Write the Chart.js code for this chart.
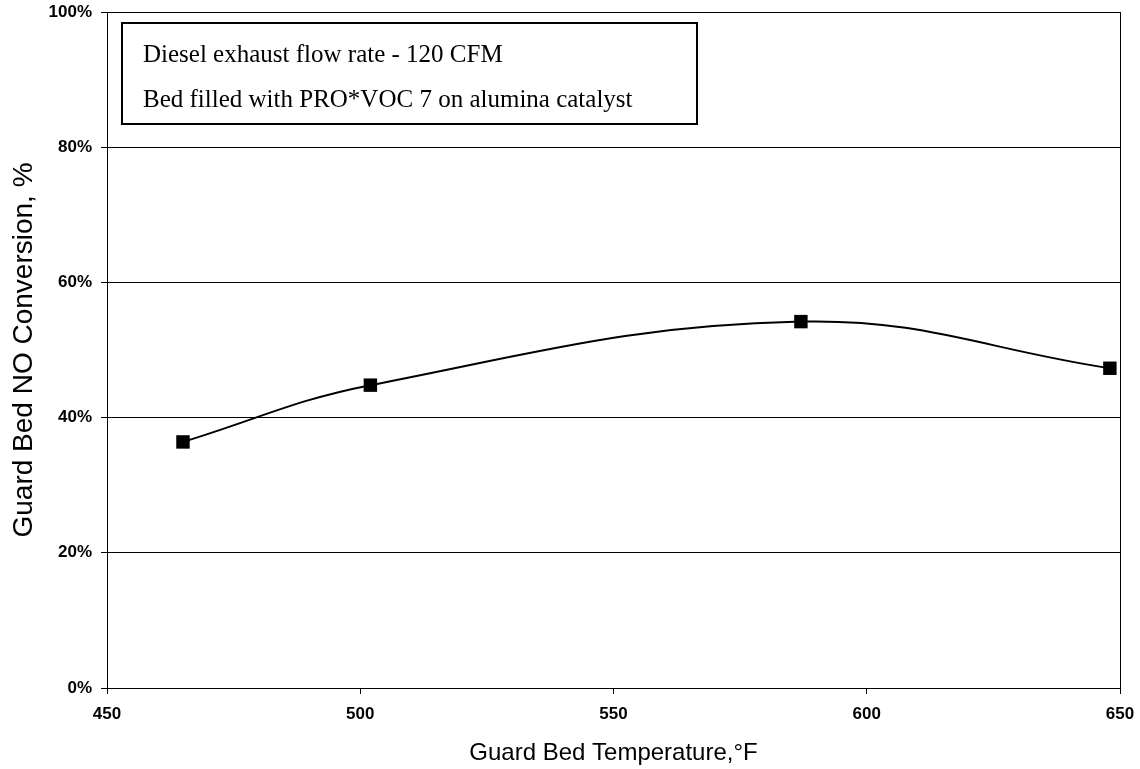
<!DOCTYPE html>
<html>
<head>
<meta charset="utf-8">
<script src="https://cdn.jsdelivr.net/npm/chart.js@4.4.1/dist/chart.umd.min.js"></script>
<style>
  html, body { margin: 0; padding: 0; background: #fff; }
  canvas { display: block; }
</style>
</head>
<body>
<canvas id="myChart" width="1140" height="769"></canvas>
<script>
// values
var temps = [465, 502, 587, 648];
var conversion = [36.4, 44.8, 54.2, 47.3];
var yTicks = [0, 20, 40, 60, 80, 100];
var xTicks = [450, 500, 550, 600, 650];
var noteLines = [
    'Diesel exhaust flow rate - 120 CFM',
    'Bed filled with PRO*VOC 7 on alumina catalyst'
];

const ctx = document.getElementById('myChart');

// frame round the plot area + the text box in the top left
const framePlugin = {
    id: 'frame',
    afterDraw(chart) {
        const c = chart.ctx;
        const a = chart.chartArea;
        c.save();
        c.strokeStyle = '#000';
        c.lineWidth = 1;
        c.strokeRect(a.left + 0.5, a.top + 0.5, a.right - a.left, a.bottom - a.top);

        // note box
        c.fillStyle = '#fff';
        c.fillRect(122, 23, 575, 101);
        c.lineWidth = 2;
        c.strokeRect(122, 23, 575, 101);
        c.fillStyle = '#000';
        c.font = '25px "Liberation Serif", "Times New Roman", serif';
        c.textBaseline = 'alphabetic';
        c.fillText(noteLines[0], 143, 62);
        c.fillText(noteLines[1], 143, 107);
        c.restore();
    }
};

Chart.defaults.font.family = '"Liberation Sans", Arial, sans-serif';
Chart.defaults.color = '#000';

var points = temps.map((t, i) => ({x: t, y: conversion[i]}));

var myChart = new Chart(ctx, {
    type: 'line',
    data: {
        datasets: [{
            data: points,
            borderColor: '#000',
            backgroundColor: '#000',
            borderWidth: 2,
            tension: 0.4,
            pointStyle: 'rect',
            pointRadius: 9.5,
            pointHoverRadius: 9.5,
            pointBorderWidth: 0,
            fill: false
        }]
    },
    options: {
        responsive: false,
        animation: false,
        events: [],
        layout: {
            padding: {left: 0, right: 20, top: 12, bottom: 0}
        },
        plugins: {
            legend: {display: false},
            tooltip: {enabled: false}
        },
        scales: {
            x: {
                type: 'linear',
                min: xTicks[0],
                max: xTicks[xTicks.length - 1],
                afterBuildTicks: (scale) => { scale.ticks = xTicks.map(v => ({value: v})); },
                afterFit: (scale) => {
                    scale.height = 81;
                    scale.paddingLeft = 0;
                    scale.paddingRight = 0;
                },
                grid: {
                    drawOnChartArea: false,
                    drawTicks: true,
                    tickLength: 6,
                    color: '#000'
                },
                border: {color: '#000', width: 1},
                ticks: {
                    padding: 10,
                    maxRotation: 0,
                    font: {size: 17, weight: 'bold'},
                    callback: (v) => v
                },
                title: {
                    display: true,
                    text: 'Guard Bed Temperature,\u00B0F',
                    font: {size: 24},
                    padding: {top: 0, bottom: 1}
                }
            },
            y: {
                min: yTicks[0],
                max: yTicks[yTicks.length - 1],
                afterBuildTicks: (scale) => { scale.ticks = yTicks.map(v => ({value: v})); },
                afterFit: (scale) => {
                    scale.width = 107;
                    scale.paddingTop = 0;
                    scale.paddingBottom = 0;
                },
                grid: {
                    color: '#000',
                    lineWidth: 1,
                    tickLength: 6
                },
                border: {color: '#000', width: 1},
                ticks: {
                    padding: 9,
                    font: {size: 17, weight: 'bold'},
                    callback: (v) => v + '%'
                },
                title: {
                    display: true,
                    text: 'Guard Bed NO Conversion, %',
                    font: {size: 28},
                    padding: {top: 7, bottom: 0}
                }
            }
        }
    },
    plugins: [framePlugin]
});
</script>
</body>
</html>
